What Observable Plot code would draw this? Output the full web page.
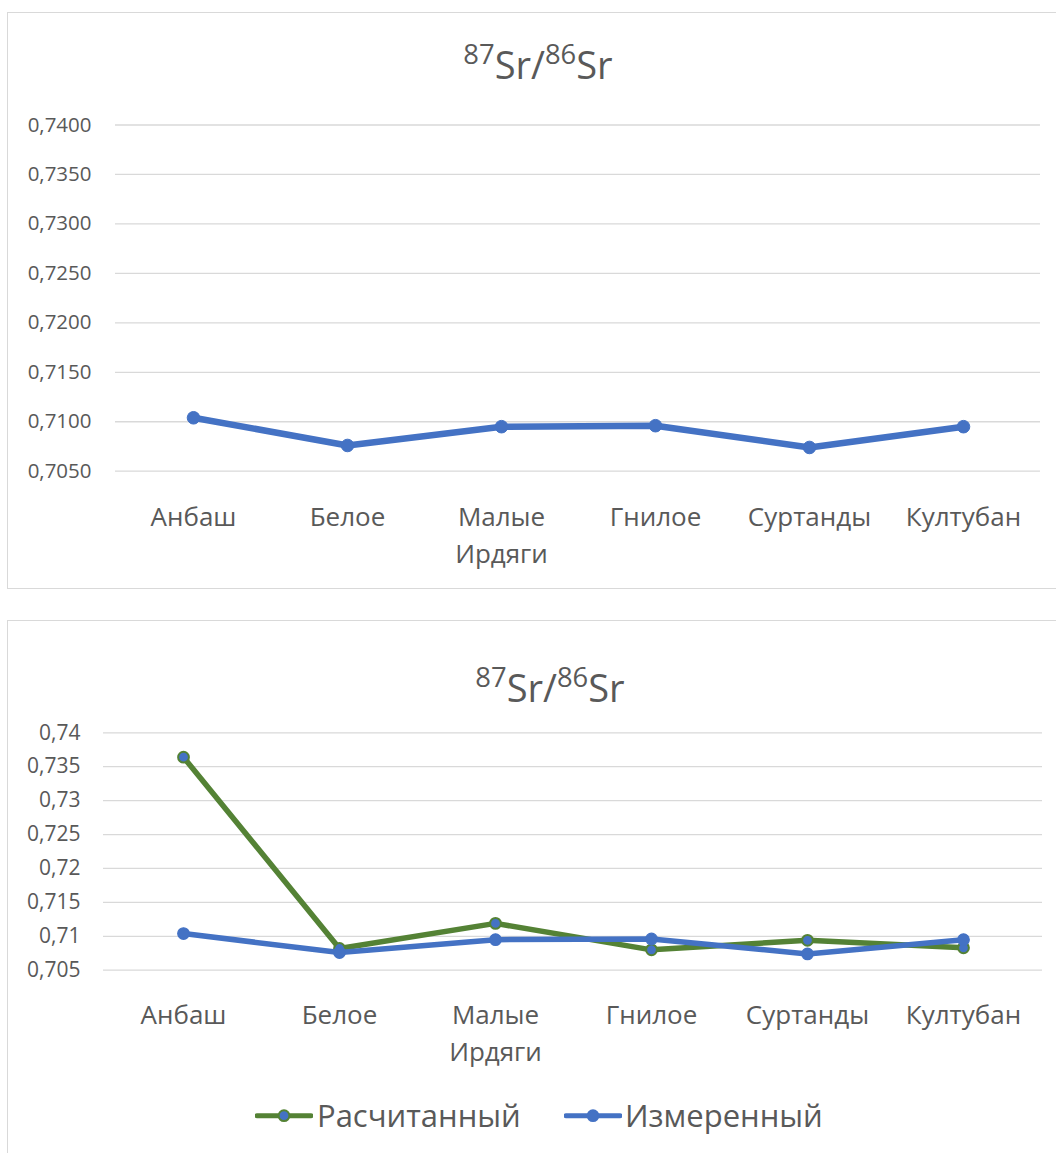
<!DOCTYPE html>
<html>
<head>
<meta charset="utf-8">
<script src="https://cdn.jsdelivr.net/npm/d3@7"></script>
<script src="https://cdn.jsdelivr.net/npm/@observablehq/plot@0.6"></script>
<style>
  html, body { margin: 0; padding: 0; background: #fff; }
  body { width: 1056px; height: 1153px; position: relative; overflow: hidden; font-family: "Open Sans", sans-serif; color: #595959; }
  .box { position: absolute; border: 1.3px solid #d9d9d9; box-sizing: border-box; }
  .title { position: absolute; width: 600px; text-align: center; font-size: 38px; line-height: 38px; white-space: nowrap; }
  .title .sup { font-size: 0.72em; position: relative; top: -0.55em; }
  .chart { position: absolute; left: 0; }
  .legend-item { position: absolute; font-size: 31px; line-height: 31px; white-space: nowrap; }
  .swatch { position: absolute; }
</style>
</head>
<body>
<div class="box" style="left:7px; top:12px; width:1060px; height:577px;"></div>
<div class="box" style="left:7px; top:620px; width:1060px; height:600px;"></div>
<div class="title" style="left:238px; top:45px;"><span class="sup">87</span>Sr/<span class="sup">86</span>Sr</div>
<div class="title" style="left:250px; top:668px;"><span class="sup">87</span>Sr/<span class="sup">86</span>Sr</div>
<div id="chart1" class="chart" style="top:100px;"></div>
<div id="chart2" class="chart" style="top:700px;"></div>
<div id="legend"></div>
<script>
// ---- data ----
const categories = ["Анбаш", "Белое", "Малые Ирдяги", "Гнилое", "Суртанды", "Култубан"];
const measured   = [0.7104, 0.7076, 0.7095, 0.7096, 0.7074, 0.7095];   // Измеренный
const calculated = [0.7364, 0.7082, 0.7119, 0.7080, 0.7094, 0.7083];   // Расчитанный
const yTicksTop    = [0.705, 0.710, 0.715, 0.720, 0.725, 0.730, 0.735, 0.740];
const yTicksBottom = [0.705, 0.710, 0.715, 0.720, 0.725, 0.730, 0.735, 0.740];
const seriesNames = ["Расчитанный", "Измеренный"];

const BLUE = "#4472C4", GREEN = "#548235", GRID = "#d9d9d9", TEXT = "#595959";
const rows = (vals) => categories.map((c, i) => ({cat: c, v: vals[i]}));
const measuredRows = rows(measured);
const calculatedRows = rows(calculated);
const catFmt = d => d.replace(" ", "\n");

// ---- chart 1 ----
const c1 = Plot.plot({
  width: 1056, height: 500.7,
  marginLeft: 115, marginRight: 16, marginTop: 24.5, marginBottom: 130,
  style: {fontFamily: "Open Sans", color: TEXT, background: "transparent", overflow: "visible"},
  x: {type: "point", domain: categories, padding: 0.5},
  y: {domain: [0.705, 0.740]},
  marks: [
    Plot.ruleY(yTicksTop, {stroke: GRID, strokeWidth: 1.3}),
    Plot.axisY({ticks: yTicksTop, tickSize: 0, tickPadding: 24, fontSize: 20.5, label: null,
                tickFormat: d => d.toFixed(4).replace(".", ",")}),
    Plot.axisX({tickSize: 0, tickPadding: 29, fontSize: 26, lineHeight: 1.42, label: null, tickFormat: catFmt}),
    Plot.line(measuredRows, {x: "cat", y: "v", stroke: BLUE, strokeWidth: 6.5}),
    Plot.dot(measuredRows, {x: "cat", y: "v", r: 6.3, fill: BLUE, stroke: BLUE, strokeWidth: 1})
  ]
});
document.getElementById("chart1").appendChild(c1);

// ---- chart 2 ----
const c2 = Plot.plot({
  width: 1056, height: 399.7,
  marginLeft: 103, marginRight: 14, marginTop: 32.3, marginBottom: 130,
  style: {fontFamily: "Open Sans", color: TEXT, background: "transparent", overflow: "visible"},
  x: {type: "point", domain: categories, padding: 0.5},
  y: {domain: [0.705, 0.740]},
  marks: [
    Plot.ruleY(yTicksBottom, {stroke: GRID, strokeWidth: 1.3}),
    Plot.axisY({ticks: yTicksBottom, tickSize: 0, tickPadding: 23, fontSize: 21, label: null,
                tickFormat: d => String(+d.toFixed(3)).replace(".", ",")}),
    Plot.axisX({tickSize: 0, tickPadding: 28, fontSize: 26, lineHeight: 1.42, label: null, tickFormat: catFmt}),
    Plot.line(calculatedRows, {x: "cat", y: "v", stroke: GREEN, strokeWidth: 5.5}),
    Plot.dot(calculatedRows, {x: "cat", y: "v", r: 5.4, fill: BLUE, stroke: GREEN, strokeWidth: 2}),
    Plot.line(measuredRows, {x: "cat", y: "v", stroke: BLUE, strokeWidth: 5.5}),
    Plot.dot(measuredRows, {x: "cat", y: "v", r: 5.8, fill: BLUE, stroke: BLUE, strokeWidth: 1.2})
  ]
});
document.getElementById("chart2").appendChild(c2);

// ---- legend ----
const legend = document.getElementById("legend");
const legendSpec = [
  {name: seriesNames[0], line: GREEN, fill: BLUE, ring: GREEN, x: 255, tx: 317},
  {name: seriesNames[1], line: BLUE, fill: BLUE, ring: BLUE, x: 564, tx: 625}
];
legendSpec.forEach(s => {
  const sw = document.createElementNS("http://www.w3.org/2000/svg", "svg");
  sw.setAttribute("class", "swatch");
  sw.setAttribute("width", 58); sw.setAttribute("height", 31);
  sw.style.left = s.x + "px"; sw.style.top = "1100px";
  sw.innerHTML = `<line x1="2" x2="56" y1="15.7" y2="15.7" stroke="${s.line}" stroke-width="5" stroke-linecap="round"/>
    <circle cx="29" cy="15.7" r="5.4" fill="${s.fill}" stroke="${s.ring}" stroke-width="2"/>`;
  legend.appendChild(sw);
  const t = document.createElement("div");
  t.className = "legend-item";
  t.style.left = s.tx + "px"; t.style.top = "1100px";
  t.textContent = s.name;
  legend.appendChild(t);
});
</script>
</body>
</html>
